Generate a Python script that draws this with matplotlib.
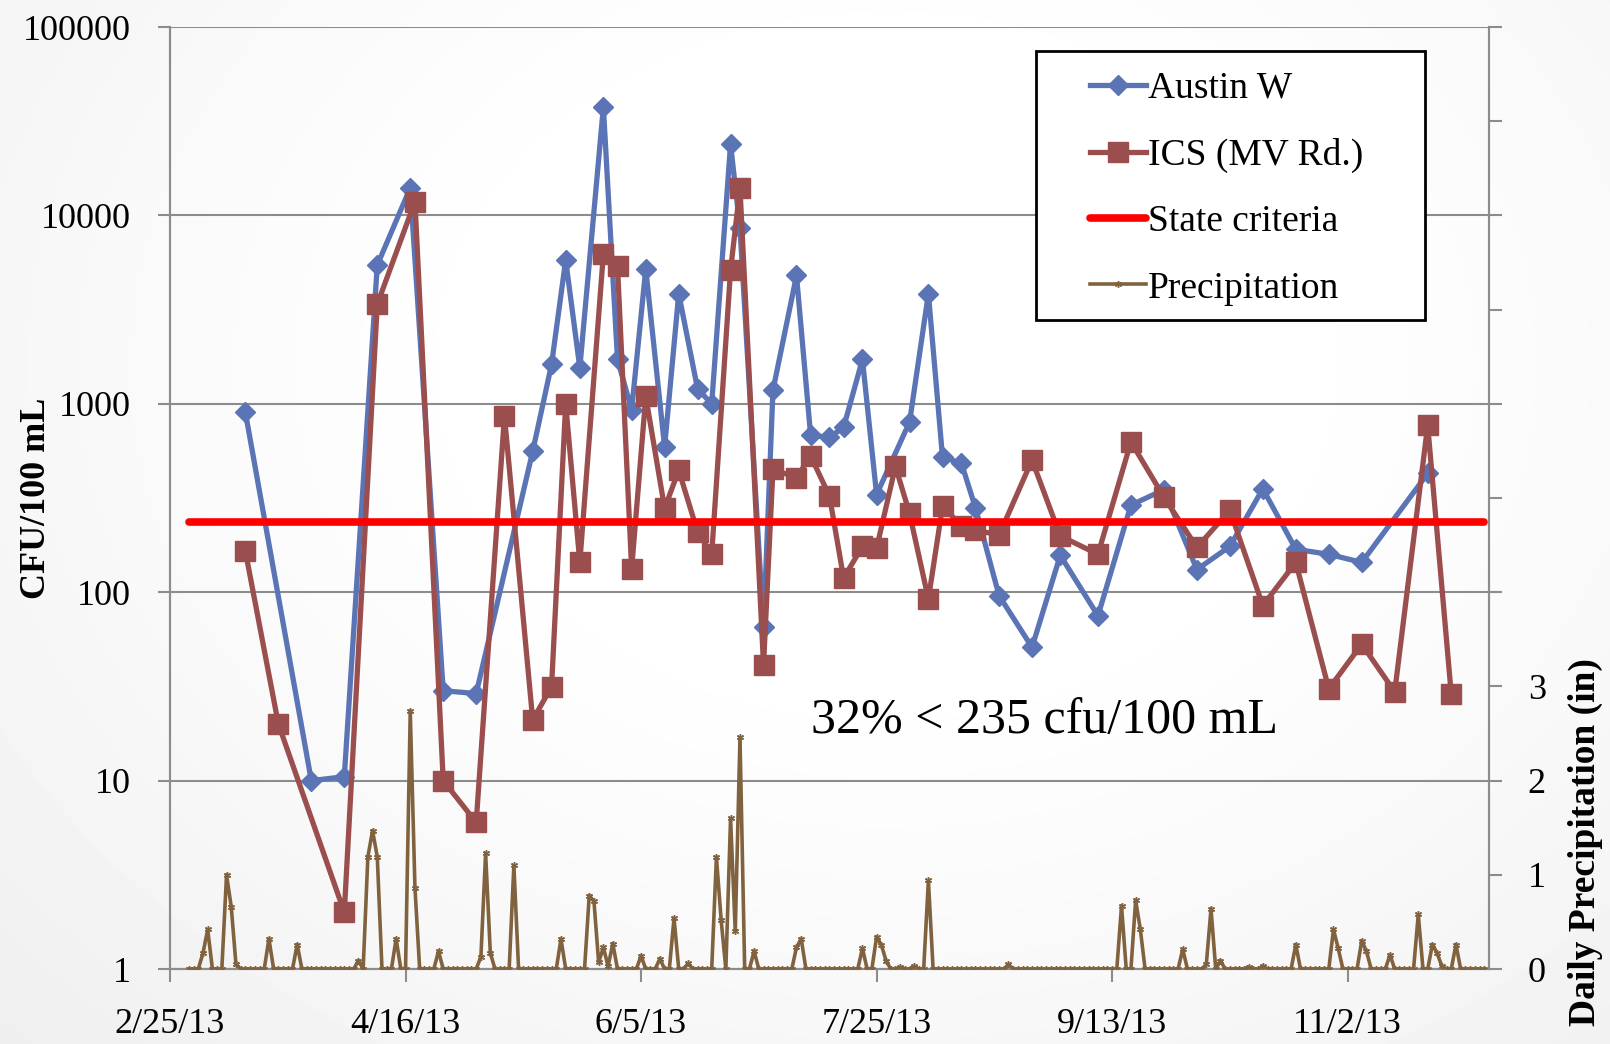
import matplotlib
matplotlib.use("Agg")
import matplotlib.pyplot as plt
from matplotlib.patches import Rectangle
from matplotlib.ticker import FixedLocator, FixedFormatter, NullLocator
import numpy as np
import pandas as pd

plt.rcParams['font.family'] = ['Liberation Serif', 'DejaVu Serif']

# --- sample data (CFU/100 mL) ---
austin_dates = ["2013-03-13", "2013-03-27", "2013-04-03", "2013-04-10", "2013-04-17",
                "2013-04-24", "2013-05-01", "2013-05-13", "2013-05-17", "2013-05-20",
                "2013-05-23", "2013-05-28", "2013-05-31", "2013-06-03", "2013-06-06",
                "2013-06-10", "2013-06-13", "2013-06-17", "2013-06-20", "2013-06-24",
                "2013-06-26", "2013-07-01", "2013-07-03", "2013-07-08", "2013-07-11",
                "2013-07-15", "2013-07-18", "2013-07-22", "2013-07-25", "2013-08-01",
                "2013-08-05", "2013-08-08", "2013-08-12", "2013-08-15", "2013-08-20",
                "2013-08-27", "2013-09-02", "2013-09-10", "2013-09-17", "2013-09-24",
                "2013-10-01", "2013-10-08", "2013-10-15", "2013-10-22", "2013-10-29",
                "2013-11-05", "2013-11-19"]
austin_cfu = [900, 10, 10.5, 5450, 14000,
              30, 29, 560, 1620, 5800,
              1550, 37600, 1720, 930, 5200,
              590, 3840, 1200, 1000, 23900,
              8530, 65, 1180, 4800, 680,
              665, 750, 1720, 330, 800,
              3840, 520, 485, 280, 96,
              51, 157, 75, 290, 350,
              132, 175, 354, 169, 159,
              144, 427]

ics_dates = ["2013-03-13", "2013-03-20", "2013-04-03", "2013-04-10", "2013-04-18",
             "2013-04-24", "2013-05-01", "2013-05-07", "2013-05-13", "2013-05-17",
             "2013-05-20", "2013-05-23", "2013-05-28", "2013-05-31", "2013-06-03",
             "2013-06-06", "2013-06-10", "2013-06-13", "2013-06-17", "2013-06-20",
             "2013-06-24", "2013-06-26", "2013-07-01", "2013-07-03", "2013-07-08",
             "2013-07-11", "2013-07-15", "2013-07-18", "2013-07-22", "2013-07-25",
             "2013-07-29", "2013-08-01", "2013-08-05", "2013-08-08", "2013-08-12",
             "2013-08-15", "2013-08-20", "2013-08-27", "2013-09-02", "2013-09-10",
             "2013-09-17", "2013-09-24", "2013-10-01", "2013-10-08", "2013-10-15",
             "2013-10-22", "2013-10-29", "2013-11-05", "2013-11-12", "2013-11-19",
             "2013-11-24"]
ics_cfu = [165, 20, 2, 3380, 11850,
           10, 6, 862, 21, 31.5,
           1000, 144, 6250, 5380, 133,
           1095, 279, 444, 209, 159,
           5120, 13960, 41, 449, 406,
           529, 324, 119, 175, 171,
           466, 262, 92, 286, 225,
           214, 201, 503, 199, 159,
           628, 320, 173, 272, 85,
           144, 30.7, 53, 29.6, 770,
           28.8]

state_criteria = 235  # cfu/100 mL

# daily precipitation (in), 3/1/13 through 12/1/13
precip_start = "2013-03-01"
precip_in = [
    0, 0, 0, 0.17, 0.42, 0, 0, 0, 1.00,
    0.66, 0.05, 0, 0, 0, 0, 0, 0, 0.32, 0,
    0, 0, 0, 0, 0.26, 0, 0, 0, 0, 0,
    0, 0, 0, 0, 0, 0, 0, 0.09, 0, 1.19,
    1.47, 1.19, 0, 0, 0, 0.32, 0, 0, 2.74, 0.86,
    0, 0, 0, 0, 0.19, 0, 0, 0, 0, 0,
    0, 0, 0, 0.13, 1.23, 0.17, 0, 0, 0, 0,
    1.10, 0, 0, 0, 0, 0, 0, 0, 0, 0,
    0.32, 0, 0, 0, 0, 0, 0.78, 0.72, 0.07, 0.23,
    0.03, 0.27, 0, 0, 0, 0, 0, 0.14, 0, 0,
    0, 0.11, 0, 0, 0.54, 0, 0, 0.06, 0, 0,
    0, 0, 0, 1.19, 0.52, 0, 1.60, 0.40, 2.46, 0,
    0, 0.19, 0, 0, 0, 0, 0, 0, 0, 0,
    0.23, 0.32, 0, 0, 0, 0, 0, 0, 0, 0,
    0, 0, 0, 0, 0.22, 0, 0, 0.34, 0.26, 0.09,
    0, 0, 0.02, 0, 0, 0.03, 0, 0, 0.94, 0,
    0, 0, 0, 0, 0, 0, 0, 0, 0, 0,
    0, 0, 0, 0, 0, 0.05, 0, 0, 0, 0,
    0, 0, 0, 0, 0, 0, 0, 0, 0, 0,
    0, 0, 0, 0, 0, 0, 0, 0, 0, 0.67,
    0, 0, 0.73, 0.42, 0, 0, 0, 0, 0, 0,
    0, 0, 0.21, 0, 0, 0, 0, 0.05, 0.64, 0,
    0.09, 0, 0, 0, 0, 0, 0.02, 0, 0, 0.03,
    0, 0, 0, 0, 0, 0, 0.26, 0, 0, 0,
    0, 0, 0, 0, 0.42, 0.22, 0, 0, 0, 0,
    0.30, 0.19, 0, 0, 0, 0, 0.15, 0, 0, 0,
    0, 0, 0.58, 0, 0, 0.26, 0.17, 0.03, 0, 0,
    0.26, 0, 0, 0, 0, 0, 0,
]

cfu_ticks = [1, 10, 100, 1000, 10000, 100000]
precip_ticks = list(range(0, 11))
precip_labels = ["0", "1", "2", "3"] + [""] * 7
x_tick_dates = ["2013-02-25", "2013-04-16", "2013-06-05", "2013-07-25", "2013-09-13", "2013-11-02"]
x_range = ["2013-02-25", "2013-12-02"]

austin_x = pd.to_datetime(austin_dates)
ics_x = pd.to_datetime(ics_dates)
precip_x = pd.date_range(precip_start, periods=len(precip_in), freq="D")
tick_x = pd.to_datetime(x_tick_dates)

# --- colours ---
BLUE = "#5B74B5"
BROWN_RED = "#9B4E4E"
RED = "#FF0000"
BROWN = "#80623F"
GRID = "#8C8C8C"

fig = plt.figure(figsize=(16.10, 10.44), dpi=100)
fig.patch.set_facecolor("white")

# soft grey vignette behind everything
h, w = 1044, 1610
yy, xx = np.mgrid[0:h, 0:w]
r = np.sqrt(((xx - 0.55 * w) / (0.62 * w)) ** 2 + ((yy - 0.35 * h) / (0.75 * h)) ** 2)
shade = 1.0 - 0.075 * np.clip(r - 0.35, 0, None) ** 1.3
fig.figimage(shade, xo=0, yo=0, cmap="gray", vmin=0, vmax=1, zorder=-10)

ax = fig.add_axes([0.1056, 0.0718, 0.8192, 0.9023])
ax.patch.set_visible(False)
ax2 = ax.twinx()

# bacteria series
ln_austin, = ax.plot(austin_x, austin_cfu, color=BLUE, lw=3.8, marker="D", ms=10,
                     mec=BLUE, mfc=BLUE, label="Austin W", zorder=3)
ln_ics, = ax.plot(ics_x, ics_cfu, color=BROWN_RED, lw=3.8, marker="s", ms=14,
                  mec=BROWN_RED, mfc=BROWN_RED, label="ICS (MV Rd.)", zorder=4)
ln_crit, = ax.plot([precip_x[0], precip_x[-1]], [state_criteria, state_criteria],
                   color=RED, lw=5.5, solid_capstyle="round", label="State criteria", zorder=5)

# precipitation on the secondary axis
ln_precip, = ax2.plot(precip_x, precip_in, color=BROWN, lw=2.6, marker=(6, 2, 0), ms=5,
                      mew=1.0, mec=BROWN, label="Precipitation", zorder=3)

ax.set_yscale("log")
ax.set_ylim(1, 100000)
ax.yaxis.set_major_locator(FixedLocator(cfu_ticks))
ax.yaxis.set_major_formatter(FixedFormatter([str(v) for v in cfu_ticks]))
ax.yaxis.set_minor_locator(NullLocator())
ax.set_xlim(pd.to_datetime(x_range[0]), pd.to_datetime(x_range[1]))
ax.set_xticks(tick_x)
ax.set_xticklabels([f"{d.month}/{d.day}/{d:%y}" for d in tick_x])
ax.grid(axis="y", color=GRID, lw=1.5)
ax.set_axisbelow(True)

ax2.set_ylim(0, 10)
ax2.yaxis.set_major_locator(FixedLocator(precip_ticks))
ax2.yaxis.set_major_formatter(FixedFormatter(precip_labels))

for a in (ax, ax2):
    for side, sp in a.spines.items():
        sp.set_color(GRID)
        sp.set_linewidth(1.5)
    a.spines["top"].set_visible(False)
    a.tick_params(length=9, width=1.5, color=GRID, pad=19, labelsize=26, direction="out")

ax.set_ylabel("CFU/100 mL", fontsize=26, fontweight="bold")
ax.yaxis.set_label_coords(-0.1016, 0.5)
ax.yaxis.label.set_va("center")

ax2.set_ylabel("Daily Precipitation (in)", fontsize=27, fontweight="bold", rotation=90)
ax2.yaxis.set_label_coords(1.0735, 0.135)
ax2.yaxis.label.set_va("center")

ax.text(0.663, 0.264, "32% < 235 cfu/100 mL", transform=ax.transAxes,
        fontsize=36, ha="center", va="center")

# legend box drawn separately so its padding can differ per side
ax2.add_patch(Rectangle((0.6566, 0.689), 0.2949, 0.2856, transform=ax2.transAxes,
                        facecolor="white", edgecolor="black", lw=2, zorder=9))
leg = ax2.legend(handles=[ln_austin, ln_ics, ln_crit, ln_precip], loc="upper left",
                 bbox_to_anchor=(0.6975, 0.953), fontsize=27, frameon=False,
                 handlelength=1.5, handletextpad=0.05, labelspacing=0.85,
                 borderpad=0, borderaxespad=0)
leg.set_zorder(10)

fig.savefig("out.png", dpi=100)
